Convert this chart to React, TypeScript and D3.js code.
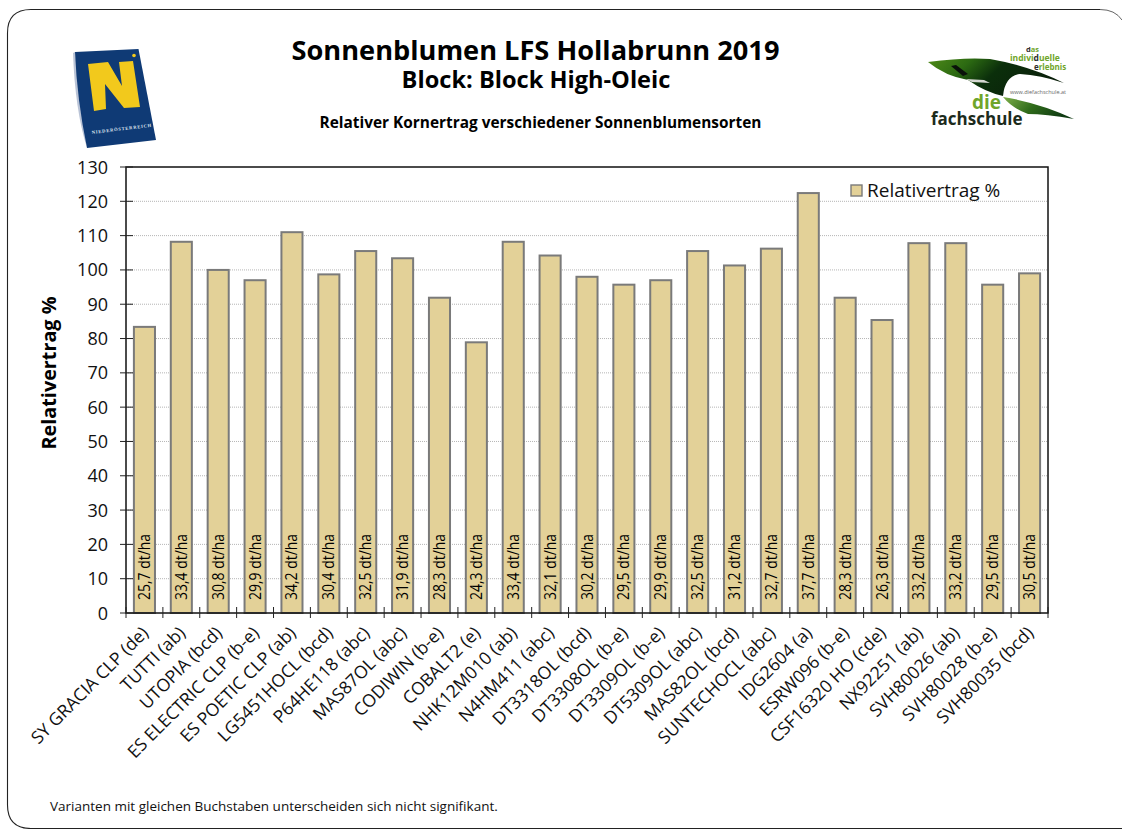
import React from "react";
import * as d3 from "d3";

const categories = ["SY GRACIA CLP (de)","TUTTI (ab)","UTOPIA (bcd)","ES ELECTRIC CLP (b-e)","ES POETIC CLP (ab)","LG5451HOCL (bcd)","P64HE118 (abc)","MAS87OL (abc)","CODIWIN (b-e)","COBALT2 (e)","NHK12M010 (ab)","N4HM411 (abc)","DT3318OL (bcd)","DT3308OL (b-e)","DT3309OL (b-e)","DT5309OL (abc)","MAS82OL (bcd)","SUNTECHOCL (abc)","IDG2604 (a)","ESRW096 (b-e)","CSF16320 HO (cde)","NX92251 (ab)","SVH80026 (ab)","SVH80028 (b-e)","SVH80035 (bcd)"];
const relative = [83.4,108.2,100,97,111,98.7,105.5,103.4,91.9,78.9,108.2,104.2,98,95.7,97,105.5,101.3,106.2,122.4,91.9,85.4,107.8,107.8,95.7,99];
const yields = ["25,7","33,4","30,8","29,9","34,2","30,4","32,5","31,9","28,3","24,3","33,4","32,1","30,2","29,5","29,9","32,5","31,2","32,7","37,7","28,3","26,3","33,2","33,2","29,5","30,5"];
const yTicks = d3.range(0, 131, 10);

const FONT = "'Open Sans', 'Noto Sans', sans-serif";
const L = 126, R = 1048, T = 167, B = 613;
const x = d3.scaleBand<string>().domain(categories).range([L, R]).paddingInner(0.4286).paddingOuter(0.2143);
const band = (R - L) / categories.length;
const y = d3.scaleLinear().domain([0, 130]).range([B, T]);

export default function App() {
  return (
    <svg width={1122} height={829} style={{ position: "absolute", left: 0, top: 0, background: "#fff" }} fontFamily={FONT}>
      <defs>
        <linearGradient id="leaf" x1="0" y1="0" x2="1" y2="0.3">
          <stop offset="0" stopColor="#4f8a18" />
          <stop offset="0.3" stopColor="#2c6a12" />
          <stop offset="0.55" stopColor="#0b2f0b" />
          <stop offset="1" stopColor="#0a1f0a" />
        </linearGradient>
        <linearGradient id="leaf2" x1="0" y1="0" x2="1" y2="0.3">
          <stop offset="0" stopColor="#7fb04a" />
          <stop offset="0.5" stopColor="#2f6b1a" />
          <stop offset="1" stopColor="#0f3a12" />
        </linearGradient>
      </defs>
      <path d="M1100 9.5 H31 Q7.5 9.5 7.5 33 V805 Q7.5 828.5 31 828.5 H1122" fill="none" stroke="#222" strokeWidth={1.1} />
      <path d="M1100 9.5 Q1115 9.5 1122 20" fill="none" stroke="#666" strokeWidth={1} />

      <text x={535.5} y={60} textAnchor="middle" fontSize={27.2} fontWeight={700} fill="#000">Sonnenblumen LFS Hollabrunn 2019</text>
      <text x={536} y={88} textAnchor="middle" fontSize={23.6} fontWeight={700} fill="#000">Block: Block High-Oleic</text>
      <text x={540.5} y={128} textAnchor="middle" fontSize={15.4} fontWeight={700} fill="#000">Relativer Kornertrag verschiedener Sonnenblumensorten</text>

      {/* Niederösterreich logo */}
      <path d="M73 53 L75 52 L87 148 Q75 110 73 53Z" fill="#b9c3d6" />
      <path d="M75 52 L138.5 49 L156 140 L87 148 Q77 100 75 52Z" fill="#0f3a75" />
      <path d="M88 64 L108 62 L122 86 L119 62 L133 61 L140 107 L124 108 L105 84 L106 109 L94 111Z" fill="#f2c91c" />
      <circle cx={134} cy={55.5} r={1.8} fill="#f2c91c" />
      <text transform="translate(92,134) rotate(-7)" fontSize={4.6} fontWeight={700} fill="#dfe6f0" letterSpacing={0.75} fontFamily="'Liberation Serif', serif">NIEDERÖSTERREICH</text>

      {/* die fachschule logo */}
      <path d="M928 62 Q965 57 990 59 Q1030 66 1064 83 Q1040 75 1020 74 Q1005 76 1003 96 Q985 92 968 80 Q945 76 928 62Z" fill="url(#leaf)" />
      <path d="M951 66 L963 76 L968 74 L956 65Z" fill="#0a120a" />
      <path d="M966 79 L984 80 L990 83 L972 82Z" fill="#d6d8d2" />
      <path d="M1003 97 Q1040 103 1074 119 Q1045 114 1028 114 Q1012 108 1003 97Z" fill="url(#leaf2)" />
      <text x={1026} y={52} fontSize={7.5} fontWeight={700} fill="#2d2d2d">d<tspan fill="#6fa52a">as</tspan></text>
      <text x={1010} y={60.5} fontSize={8.5} fontWeight={700} fill="#6fa52a">indivi<tspan fill="#2d2d2d">d</tspan>uelle</text>
      <text x={1034} y={69.5} fontSize={8} fontWeight={700} fill="#6fa52a"><tspan fill="#2d2d2d">e</tspan>rlebnis</text>
      <text x={1010} y={94} fontSize={5.5} fill="#666">www.diefachschule.at</text>
      <text x={972} y={109} fontSize={19} fontWeight={700} fill="#6fa52a">die</text>
      <text x={931} y={125} fontSize={17} fontWeight={700} fill="#1c2b1c">fachschule</text>

      {yTicks.filter(t => t > 0 && t < 130).map(t => (
        <line key={t} x1={L} x2={R} y1={y(t)} y2={y(t)} stroke="#b5b5b5" strokeWidth={1} strokeDasharray="1 1" />
      ))}

      {categories.map((c, i) => (
        <rect key={c} x={x(c)} y={y(relative[i])} width={x.bandwidth()} height={B - y(relative[i])} fill="#e3d198" stroke="#7a7a7a" strokeWidth={2} />
      ))}

      {categories.map((c, i) => (
        <text key={c} transform={`translate(${x(c)! + x.bandwidth() / 2 + 5.5},${B - 13}) rotate(-90) scale(0.9,1)`} fontSize={15.5} fill="#000">{yields[i]} dt/ha</text>
      ))}

      <rect x={L} y={T} width={R - L} height={B - T} fill="none" stroke="#111" strokeWidth={1.5} />
      {yTicks.map(t => (
        <g key={t}>
          <line x1={120} x2={133} y1={y(t)} y2={y(t)} stroke="#222" strokeWidth={1} />
          <text x={108} y={y(t) + 6.5} textAnchor="end" fontSize={18} fill="#111">{t}</text>
        </g>
      ))}
      {d3.range(categories.length + 1).map(i => (
        <line key={i} x1={L + band * i} x2={L + band * i} y1={607} y2={618} stroke="#222" strokeWidth={1} />
      ))}
      {categories.map(c => (
        <text key={c} transform={`translate(${x(c)! + x.bandwidth() / 2 + 5},${634}) rotate(-45)`} textAnchor="end" fontSize={17.6} fill="#111">{c}</text>
      ))}

      <text transform="translate(56,373) rotate(-90)" textAnchor="middle" fontSize={19.8} fontWeight={700} fill="#000">Relativertrag %</text>

      <rect x={851} y={185} width={11} height={11} fill="#e3d198" stroke="#7a7a7a" strokeWidth={1.4} />
      <text x={867} y={197} fontSize={19} fill="#111">Relativertrag %</text>

      <text x={50} y={811} fontSize={13.5} fill="#111">Varianten mit gleichen Buchstaben unterscheiden sich nicht signifikant.</text>
    </svg>
  );
}
